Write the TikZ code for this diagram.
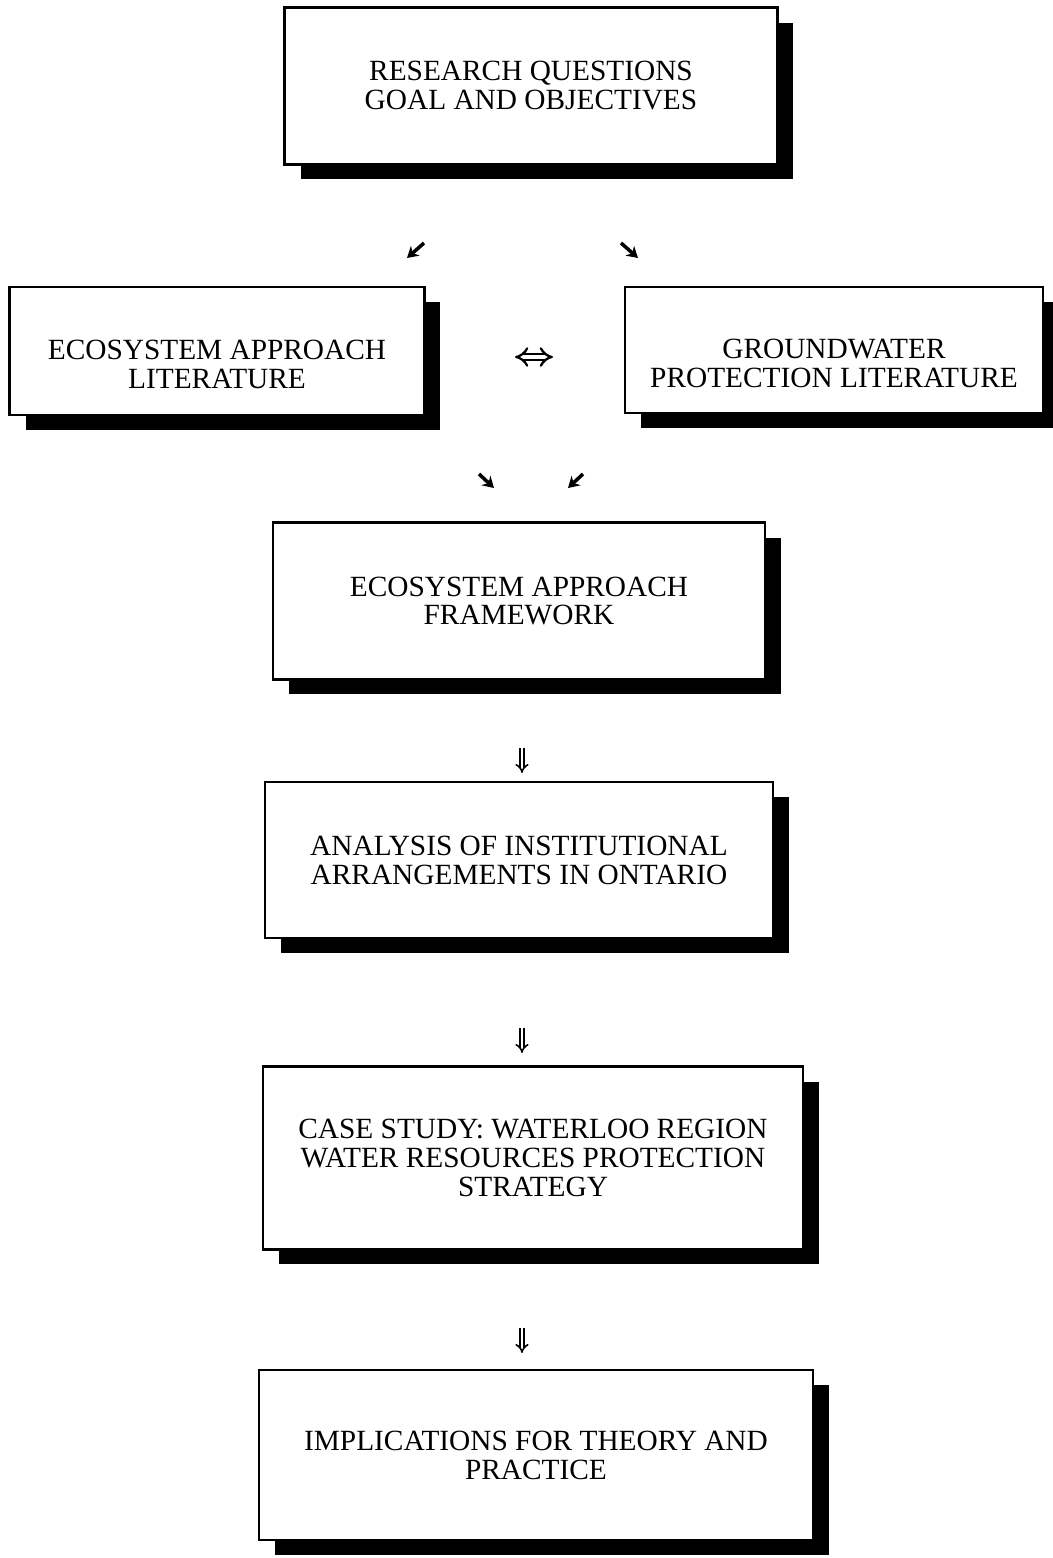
\documentclass[tikz,border=0pt]{standalone}
\usepackage{fontspec}
\setmainfont{Liberation Serif}
\usetikzlibrary{shadows,arrows.meta}
\tikzstyle{stage}=[draw, line width=1.2pt, fill=white, align=center, inner sep=0pt,
  font=\fontsize{16.7}{16.5}\selectfont,
  drop shadow={shadow xshift=0.32cm, shadow yshift=-0.3cm, opacity=1, fill=black}]
\tikzstyle{small arrow}=[line width=2pt, -{Stealth[length=2.2mm,width=2.6mm]}]
\tikzstyle{both arrow}=[double, double distance=2.4pt, line width=1.3pt, {Implies}-{Implies}]
\tikzstyle{down arrow}=[double, double distance=1.6pt, line width=0.9pt, -{Implies}]
\newcommand{\lowtext}{\rule{0pt}{0.93cm}}

\begin{document}
\begin{tikzpicture}[x=0.02cm, y=-0.02cm]
\useasboundingbox (0,0) rectangle (1053,1558);
\node[stage, minimum width=9.86cm, minimum height=3.14cm] (goal) at (531,86) {RESEARCH QUESTIONS\\GOAL AND OBJECTIVES};
\node[stage, minimum width=8.30cm, minimum height=2.56cm] (ecolit) at (217,351) {\lowtext ECOSYSTEM APPROACH\\LITERATURE};
\node[stage, minimum width=8.36cm, minimum height=2.52cm] (gwlit) at (834,350) {\lowtext GROUNDWATER\\PROTECTION LITERATURE};
\node[stage, minimum width=9.84cm, minimum height=3.14cm] (frame) at (519,601) {ECOSYSTEM APPROACH\\FRAMEWORK};
\node[stage, minimum width=10.16cm, minimum height=3.12cm] (inst) at (519,860) {ANALYSIS OF INSTITUTIONAL\\ARRANGEMENTS IN ONTARIO};
\node[stage, minimum width=10.80cm, minimum height=3.66cm] (case) at (533,1158) {CASE STUDY: WATERLOO REGION\\WATER RESOURCES PROTECTION\\STRATEGY};
\node[stage, minimum width=11.08cm, minimum height=3.40cm] (impl) at (536,1455) {IMPLICATIONS FOR THEORY AND\\PRACTICE};
% arrow ends
\coordinate (a1s) at (424,243); \coordinate (a1e) at (407,258);
\coordinate (a2s) at (621,243); \coordinate (a2e) at (638,258);
\coordinate (a3s) at (515,357); \coordinate (a3e) at (553,357);
\coordinate (a4s) at (479,474); \coordinate (a4e) at (494,488);
\coordinate (a5s) at (583,474); \coordinate (a5e) at (568,488);
\coordinate (a6s) at (522,748); \coordinate (a6e) at (522,773);
\coordinate (a7s) at (522,1028); \coordinate (a7e) at (522,1053);
\coordinate (a8s) at (522,1328); \coordinate (a8e) at (522,1353);
\draw[small arrow] (a1s) -- (a1e);
\draw[small arrow] (a2s) -- (a2e);
\draw[both arrow] (a3s) -- (a3e);
\draw[small arrow] (a4s) -- (a4e);
\draw[small arrow] (a5s) -- (a5e);
\draw[down arrow] (a6s) -- (a6e);
\draw[down arrow] (a7s) -- (a7e);
\draw[down arrow] (a8s) -- (a8e);
\end{tikzpicture}
\end{document}
